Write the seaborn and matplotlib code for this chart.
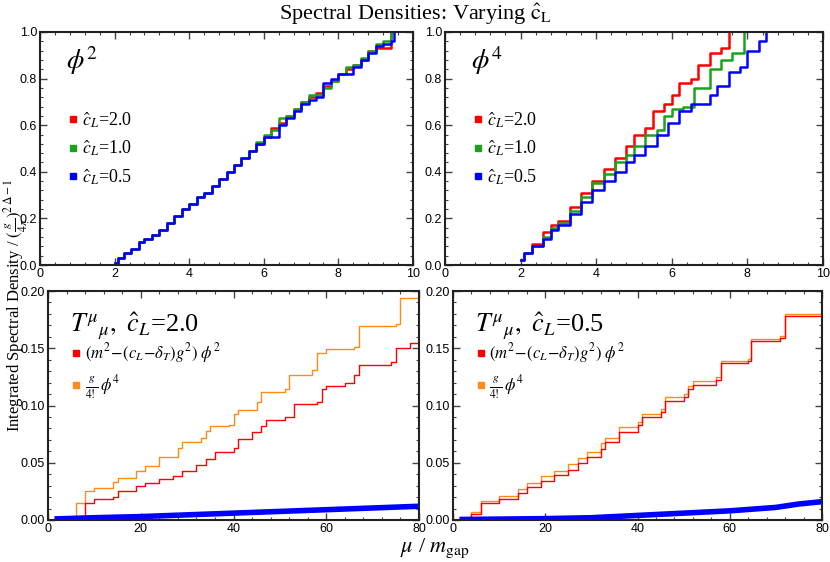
import matplotlib.pyplot as plt
import seaborn as sns
import pandas as pd
from matplotlib.lines import Line2D
from matplotlib.ticker import MultipleLocator

plt.rcParams.update({
    "font.family": "Liberation Sans",
    "mathtext.fontset": "stix",
    "xtick.direction": "in",
    "ytick.direction": "in",
    "xtick.top": True,
    "ytick.right": True,
    "xtick.labelsize": 9,
    "ytick.labelsize": 9,
})

# top-left: phi^2 integrated densities
phi2_x = [2.0, 2.1, 2.25, 2.45, 2.65, 2.8, 3.0, 3.2, 3.4, 3.6, 3.8, 4.0, 4.2, 4.4, 4.6,
          4.8, 5.0, 5.2, 5.4, 5.6, 5.8, 6.0, 6.2, 6.4, 6.6, 6.8, 7.0, 7.2, 7.4, 7.6,
          7.8, 8.0, 8.2, 8.4, 8.6, 8.8, 9.0, 9.2, 9.4]
phi2_red = [0.01, 0.03, 0.05, 0.07, 0.10, 0.11, 0.13, 0.15, 0.18, 0.21, 0.24, 0.26, 0.29,
            0.31, 0.34, 0.37, 0.40, 0.43, 0.46, 0.49, 0.52, 0.55, 0.59, 0.61, 0.64, 0.67,
            0.70, 0.72, 0.74, 0.77, 0.79, 0.82, 0.84, 0.86, 0.88, 0.92, 0.93, 0.93, 1.0]
phi2_green = [0.01, 0.03, 0.05, 0.07, 0.10, 0.11, 0.13, 0.15, 0.18, 0.21, 0.24, 0.26, 0.29,
              0.31, 0.34, 0.37, 0.40, 0.43, 0.46, 0.49, 0.53, 0.56, 0.58, 0.63, 0.64, 0.67,
              0.70, 0.73, 0.73, 0.76, 0.79, 0.82, 0.85, 0.86, 0.89, 0.92, 0.95, 0.96, 1.0]
phi2_blue_x = phi2_x + [9.5]
phi2_blue = [0.01, 0.03, 0.05, 0.07, 0.10, 0.11, 0.13, 0.15, 0.18, 0.21, 0.24, 0.26, 0.29,
             0.31, 0.34, 0.37, 0.40, 0.43, 0.46, 0.49, 0.52, 0.55, 0.55, 0.60, 0.63, 0.66,
             0.69, 0.71, 0.72, 0.78, 0.80, 0.82, 0.82, 0.85, 0.88, 0.91, 0.94, 0.95, 0.96, 1.0]

# top-right: phi^4 integrated densities
phi4_red_x = [2.0, 2.1, 2.3, 2.6, 2.8, 3.0, 3.3, 3.6, 3.9, 4.2, 4.5, 4.8, 5.0, 5.3, 5.5,
              5.8, 6.0, 6.2, 6.5, 6.7, 7.0, 7.3, 7.5]
phi4_red = [0.02, 0.05, 0.09, 0.14, 0.17, 0.19, 0.25, 0.31, 0.36, 0.41, 0.46, 0.51, 0.56,
            0.59, 0.66, 0.69, 0.73, 0.78, 0.80, 0.86, 0.91, 0.93, 1.0]
phi4_green_x = [2.0, 2.1, 2.3, 2.6, 2.8, 3.0, 3.3, 3.6, 3.9, 4.2, 4.5, 4.8, 5.0, 5.3, 5.6,
                5.8, 6.0, 6.3, 6.6, 7.0, 7.3, 7.6, 7.9]
phi4_green = [0.02, 0.05, 0.08, 0.12, 0.16, 0.18, 0.23, 0.29, 0.35, 0.39, 0.44, 0.47, 0.51,
              0.56, 0.58, 0.64, 0.67, 0.68, 0.76, 0.84, 0.88, 0.91, 1.0]
phi4_blue_x = [2.0, 2.1, 2.3, 2.6, 2.8, 3.0, 3.3, 3.6, 3.9, 4.2, 4.5, 4.8, 5.0, 5.3, 5.6,
               5.9, 6.2, 6.5, 7.0, 7.2, 7.5, 7.8, 8.0, 8.3, 8.5]
phi4_blue = [0.02, 0.05, 0.08, 0.11, 0.15, 0.17, 0.22, 0.27, 0.32, 0.36, 0.40, 0.44, 0.47,
             0.51, 0.56, 0.61, 0.66, 0.69, 0.73, 0.77, 0.83, 0.85, 0.92, 0.96, 1.0]

# bottom-left: T^mu_mu, c_L = 2.0
tl_orange_x = [4.5, 6, 8, 10, 14, 15, 19, 21, 24, 28, 29, 33, 34, 35, 39, 40, 41, 45, 46,
               51, 52, 57, 58, 60, 66, 67, 75, 76, 80]
tl_orange = [0.002, 0.015, 0.025, 0.028, 0.033, 0.037, 0.043, 0.047, 0.055, 0.063, 0.068,
             0.072, 0.078, 0.082, 0.083, 0.093, 0.096, 0.103, 0.112, 0.114, 0.127, 0.131,
             0.146, 0.149, 0.151, 0.169, 0.171, 0.194, 0.197]
tl_red_x = [6, 8, 10, 14, 15, 19, 21, 24, 27, 29, 32, 34, 36, 40, 41, 44, 46, 47, 51, 53,
            58, 59, 60, 64, 66, 67, 74, 75, 78, 80]
tl_red = [0.003, 0.015, 0.018, 0.020, 0.025, 0.030, 0.032, 0.036, 0.038, 0.043, 0.048,
          0.053, 0.059, 0.063, 0.071, 0.077, 0.082, 0.087, 0.090, 0.101, 0.103, 0.114,
          0.117, 0.120, 0.127, 0.135, 0.138, 0.150, 0.155, 0.159]
tl_blue_x = [2, 10, 20, 30, 40, 50, 60, 70, 80]
tl_blue = [0.001, 0.002, 0.003, 0.0045, 0.006, 0.0075, 0.009, 0.0105, 0.012]

# bottom-right: T^mu_mu, c_L = 0.5
tr_orange_x = [2, 4, 6, 10, 14, 16, 19, 22, 25, 27, 29, 32, 33, 36, 40, 41, 45, 46, 50, 51,
               52, 57, 58, 64, 64.5, 71, 72, 80]
tr_orange = [0.001, 0.007, 0.017, 0.021, 0.027, 0.032, 0.038, 0.043, 0.049, 0.054, 0.059,
             0.067, 0.072, 0.081, 0.086, 0.093, 0.097, 0.107, 0.110, 0.117, 0.121, 0.125,
             0.139, 0.141, 0.158, 0.161, 0.180, 0.184]
tr_red = [0.001, 0.005, 0.015, 0.018, 0.024, 0.029, 0.034, 0.039, 0.044, 0.050, 0.055,
          0.062, 0.068, 0.077, 0.083, 0.090, 0.094, 0.104, 0.107, 0.114, 0.118, 0.122,
          0.137, 0.139, 0.156, 0.159, 0.178, 0.182]
tr_blue_x = [2, 10, 20, 30, 40, 50, 60, 65, 70, 75, 80]
tr_blue = [0.0005, 0.0008, 0.0012, 0.002, 0.004, 0.006, 0.008, 0.0095, 0.011, 0.014, 0.016]

RED, GREEN, BLUE, ORANGE = "#ff0000", "#1aa31a", "#0000ff", "#ff8c1a"
SERIF = "Liberation Serif"


def step(ax, x, y, color, lw):
    df = pd.DataFrame({"x": x, "y": y})
    sns.lineplot(data=df, x="x", y="y", ax=ax, color=color, lw=lw,
                 drawstyle="steps-post", sort=False)


def square_legend(ax, labels, colors, loc, size):
    handles = [Line2D([], [], ls="", marker="s", ms=5, color=c) for c in colors]
    ax.legend(handles, labels, loc="center left", bbox_to_anchor=loc, frameon=False,
              handletextpad=0.1, borderaxespad=0, labelspacing=0.5,
              prop={"family": SERIF, "size": size}, handlelength=0.8)


fig = plt.figure(figsize=(8.3, 5.62), dpi=100)
W, H = 830, 562
ax1 = fig.add_axes([40 / W, 1 - 265 / H, 373 / W, 233 / H])
ax2 = fig.add_axes([445 / W, 1 - 265 / H, 378 / W, 233 / H])
ax3 = fig.add_axes([48 / W, 1 - 520 / H, 371 / W, 229 / H])
ax4 = fig.add_axes([453 / W, 1 - 520 / H, 369 / W, 229 / H])

step(ax1, phi2_x, phi2_red, RED, 1.8)
step(ax1, phi2_x, phi2_green, GREEN, 1.8)
step(ax1, phi2_blue_x, phi2_blue, BLUE, 1.8)
step(ax2, phi4_red_x, phi4_red, RED, 1.8)
step(ax2, phi4_green_x, phi4_green, GREEN, 1.8)
step(ax2, phi4_blue_x, phi4_blue, BLUE, 1.8)
step(ax3, tl_orange_x, tl_orange, ORANGE, 1)
step(ax3, tl_red_x, tl_red, RED, 1)
sns.lineplot(x=tl_blue_x, y=tl_blue, ax=ax3, color=BLUE, lw=4)
step(ax4, tr_orange_x, tr_orange, ORANGE, 1)
step(ax4, tr_orange_x, tr_red, RED, 1)
sns.lineplot(x=tr_blue_x, y=tr_blue, ax=ax4, color=BLUE, lw=4)

cl_labels = [r"$\hat{c}_L$=2.0", r"$\hat{c}_L$=1.0", r"$\hat{c}_L$=0.5"]
op_labels = [r"$(m^2\!-\!(c_L\!-\!\delta_T)g^2)\ \phi^2$", r"$\frac{g}{4!}\,\phi^4$"]

for ax in (ax1, ax2):
    ax.set_xlim(0, 10)
    ax.set_ylim(0, 1)
    ax.xaxis.set_major_locator(MultipleLocator(2))
    ax.xaxis.set_minor_locator(MultipleLocator(0.4))
    ax.yaxis.set_major_locator(MultipleLocator(0.2))
    ax.yaxis.set_minor_locator(MultipleLocator(0.04))
    square_legend(ax, cl_labels, [RED, GREEN, BLUE], (0.05, 0.5), 13)
for ax in (ax3, ax4):
    ax.set_xlim(0, 80)
    ax.set_ylim(0, 0.2)
    ax.xaxis.set_major_locator(MultipleLocator(20))
    ax.xaxis.set_minor_locator(MultipleLocator(4))
    ax.yaxis.set_major_locator(MultipleLocator(0.05))
    ax.yaxis.set_minor_locator(MultipleLocator(0.01))
    ax.yaxis.set_major_formatter(lambda v, p: f"{v:.2f}")
    square_legend(ax, op_labels, [RED, ORANGE], (0.04, 0.65), 12)

for ax in (ax1, ax2, ax3, ax4):
    ax.set_xlabel("")
    ax.set_ylabel("")
    ax.tick_params(which="major", length=5, width=1, color="#444444", pad=2)
    ax.tick_params(which="minor", length=2.5, width=0.8, color="#444444")
    for s in ax.spines.values():
        s.set_linewidth(1.5)
        s.set_color("#222222")

ax1.text(0.07, 0.84, r"$\phi^2$", transform=ax1.transAxes, fontsize=20)
ax2.text(0.07, 0.84, r"$\phi^4$", transform=ax2.transAxes, fontsize=20)
ax3.text(0.06, 0.82, r"$T^{\mu}{}_{\mu},\ \hat{c}_L$=2.0", transform=ax3.transAxes,
         fontsize=19, family=SERIF)
ax4.text(0.06, 0.82, r"$T^{\mu}{}_{\mu},\ \hat{c}_L$=0.5", transform=ax4.transAxes,
         fontsize=19, family=SERIF)

fig.text(0.5, 1 - 14 / H, r"Spectral Densities: Varying $\mathrm{\hat{c}_L}$",
         ha="center", va="center", fontsize=16, family=SERIF)
fig.text(2 / W, 1 - 305 / H, r"Integrated Spectral Density / $(\frac{g}{4\pi})^{2\,\Delta-1}$",
         rotation=90, ha="left", va="center", fontsize=12, family=SERIF)
fig.text(435 / W, 1 - 548 / H, r"$\mu$ / $m_{\mathrm{gap}}$", ha="center", va="center",
         fontsize=16, family=SERIF)

fig.savefig("out.png", dpi=100)
